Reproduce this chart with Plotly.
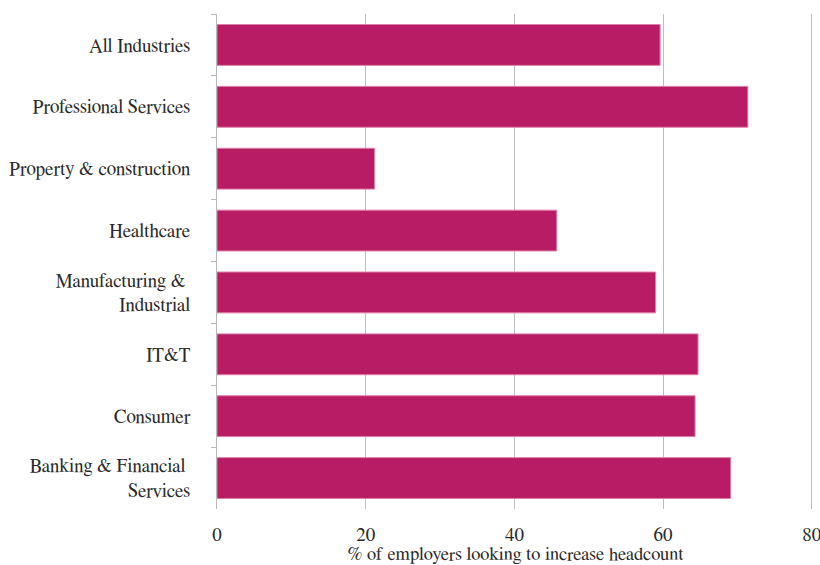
import plotly.graph_objects as go

categories = [
    "All Industries",
    "Professional Services",
    "Property & construction",
    "Healthcare",
    "Manufacturing & <br>Industrial",
    "IT&T",
    "Consumer",
    "Banking & Financial <br>Services",
]
values = [59.6, 71.4, 21.2, 45.7, 59.0, 64.7, 64.3, 69.1]
x_ticks = [0, 20, 40, 60, 80]

font_family = "Nimbus Roman, FreeSerif, Liberation Serif, DejaVu Serif, serif"
fs = 19

fig = go.Figure(
    go.Bar(
        y=categories,
        x=values,
        orientation="h",
        marker=dict(color="#B71C64", line=dict(color="#E07FA8", width=1)),
        width=0.66,
    )
)

fig.update_layout(
    width=820,
    height=565,
    margin=dict(l=217, r=6, t=14, b=56),
    plot_bgcolor="white",
    paper_bgcolor="white",
    font=dict(family=font_family, size=fs, color="#2a2a2a"),
    showlegend=False,
    bargap=0.34,
)

fig.update_xaxes(
    range=[0, 80.3],
    tickvals=x_ticks,
    showgrid=True,
    gridcolor="#BDBDBD",
    gridwidth=1,
    zeroline=False,
    showline=False,
    ticks="",
    automargin=False,
    ticklabeloverflow="allow",
    ticklabelstandoff=12,
    title=dict(text="% of employers looking to increase headcount",
               font=dict(family=font_family, size=18.5), standoff=10),
    tickfont=dict(family=font_family, size=fs),
)

fig.update_yaxes(
    autorange="reversed",
    automargin=False,
    showline=True,
    linecolor="#B8B8B8",
    linewidth=1,
    ticks="outside",
    tickson="boundaries",
    ticklen=5,
    tickcolor="#B8B8B8",
    showgrid=False,
    ticklabelstandoff=22,
    tickfont=dict(family=font_family, size=fs),
)

fig.write_html("out.html")
